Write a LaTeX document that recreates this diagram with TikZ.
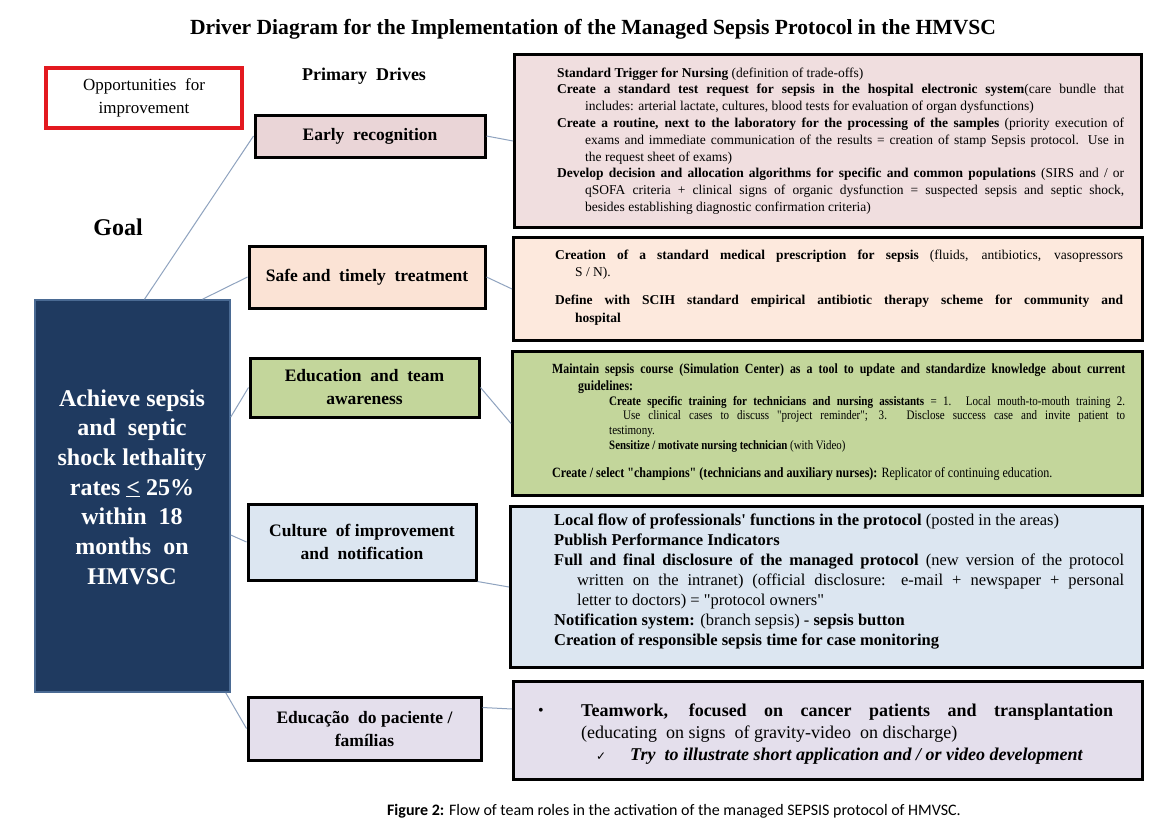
\documentclass[tikz,border=0pt]{standalone}
\usepackage{fontspec}
\setmainfont{Liberation Serif}[Ligatures=TeXOff]
\newfontfamily\capfont{Carlito}
\newfontfamily\condfont{Liberation Serif}[FakeStretch=0.85, Ligatures=TeXOff]
\newfontfamily\symfont{DejaVu Sans}
\definecolor{goalblue}{HTML}{1F3A60}
\definecolor{goaledge}{HTML}{4A6A93}
\definecolor{pinkA}{HTML}{EAD5D7}
\definecolor{pinkB}{HTML}{F0DEDF}
\definecolor{peachA}{HTML}{FBE3D5}
\definecolor{peachB}{HTML}{FDE9DD}
\definecolor{greenA}{HTML}{C3D69B}
\definecolor{blueA}{HTML}{DCE6F1}
\definecolor{lavA}{HTML}{E4DFEC}
\definecolor{conn}{HTML}{8FA3BF}
\definecolor{oppred}{HTML}{E3191F}
% first paragraph of a block (no leading \par) and following paragraphs
\newcommand\hf[1]{\noindent\hangindent=#1\hangafter=1\relax}
\newcommand\hn[1]{\par\noindent\hangindent=#1\hangafter=1\relax}
\tikzset{
  primbox/.style={draw=black, line width=3pt, inner sep=0pt, align=center,
    font=\bfseries\fontsize{17.5}{23}\selectfont},
  drvbox/.style={draw=black, line width=3pt, inner sep=0pt, anchor=north west},
  link/.style={draw=conn, line width=1pt},
  txt/.style={inner sep=0pt, anchor=base west, align=justify},
}
\begin{document}
\begin{tikzpicture}[x=1pt,y=-1pt]
\fill[white] (0,0) rectangle (1153,830);
\useasboundingbox (0,0) rectangle (1153,830);

% title and headings
\node[anchor=base, inner sep=0pt, font=\bfseries\fontsize{21.6}{25}\selectfont] (title) at (593,34)
  {Driver Diagram for the Implementation of the Managed Sepsis Protocol in the HMVSC};
\node[anchor=base, inner sep=0pt, font=\bfseries\fontsize{18}{22}\selectfont] (primhead) at (364,80) {Primary~ Drives};
\node[anchor=base, inner sep=0pt, font=\bfseries\fontsize{24}{28}\selectfont] (goalhead) at (118,235) {Goal};
\node[draw=oppred, line width=3.5pt, minimum width=196pt, minimum height=60pt, inner sep=0pt,
  align=center, font=\fontsize{17}{23}\selectfont] (opp) at (144,98) {Opportunities~ for\\ improvement};

% goal
\node[draw=goaledge, line width=1.5pt, fill=goalblue, minimum width=195pt, minimum height=392pt, inner sep=0pt] (goal) at (132.5,496) {};
\node[text=white, align=center, inner sep=0pt, font=\bfseries\fontsize{24}{29.7}\selectfont] (goaltxt) at (132,487)
  {Achieve sepsis\\ and~ septic\\ shock lethality\\ rates \underline{<} 25\%\\ within~ 18\\ months~ on\\ HMVSC};

% primary drivers
\node[primbox, fill=pinkA, minimum width=230pt, minimum height=42pt] (pr1) at (370,136) {Early~ recognition};
\node[primbox, fill=peachA, minimum width=236pt, minimum height=62pt] (pr2) at (367,277) {Safe and~ timely~ treatment};
\node[primbox, fill=greenA, minimum width=229pt, minimum height=59pt] (pr3) at (364.5,387.5) {Education~ and~ team\\ awareness};
\node[primbox, fill=blueA, minimum width=228pt, minimum height=76pt] (pr4) at (362,542) {Culture~ of improvement\\ and~ notification};
\node[primbox, fill=lavA, minimum width=233pt, minimum height=63pt] (pr5) at (364.5,728.5) {Educação~ do paciente /\\ famílias};

% driver boxes
\node[drvbox, fill=pinkB, minimum width=627pt, minimum height=173pt] (bx1) at (513,53) {};
\node[drvbox, fill=peachB, minimum width=629pt, minimum height=103pt] (bx2) at (512,236) {};
\node[drvbox, fill=greenA, minimum width=630pt, minimum height=144pt] (bx3) at (511,350) {};
\node[drvbox, fill=blueA, minimum width=632pt, minimum height=161pt] (bx4) at (509,505) {};
\node[drvbox, fill=lavA, minimum width=629pt, minimum height=98pt] (bx5) at (512,680) {};

% connectors
\draw[link] ([xshift=12pt]goal.north) -- (pr1.west);
\draw[link] ([xshift=70pt]goal.north) -- (pr2.west);
\draw[link] ([yshift=79pt]goal.east) -- (pr3.west);
\draw[link] ([yshift=-39pt]goal.east) -- (pr4.west);
\draw[link] ([xshift=-5pt]goal.south east) -- (pr5.west);
\draw[link] (pr1.east) -- (bx1.west);
\draw[link] (pr2.east) -- (bx2.west);
\draw[link] (pr3.east) -- (bx3.west);
\draw[link] (pr4.south east) -- (bx4.west);
\draw[link] ([yshift=-12pt]pr5.north east) -- ([yshift=-29pt]bx5.north west);

% box 1 text
\node[txt, text width=567pt, font=\fontsize{13.5}{16.8}\selectfont] (t1) at (557,77) {%
\hf{28pt}\textbf{Standard Trigger for Nursing} (definition of trade-offs)
\hn{28pt}\textbf{Create a standard test request for sepsis in the hospital electronic system}(care bundle that\linebreak includes: arterial lactate, cultures, blood tests for evaluation of organ dysfunctions)
\hn{28pt}\textbf{Create a routine, next to the laboratory for the processing of the samples} (priority execution of\linebreak exams and immediate communication of the results = creation of stamp Sepsis protocol. Use in\linebreak the request sheet of exams)
\hn{28pt}\textbf{Develop decision and allocation algorithms for specific and common populations} (SIRS and / or\linebreak qSOFA criteria + clinical signs of organic dysfunction = suspected sepsis and septic shock,\linebreak besides establishing diagnostic confirmation criteria)\par};

% box 2 text
\node[txt, text width=568pt, font=\fontsize{13.5}{17.5}\selectfont] (t2) at (555,259) {%
\hf{20pt}\textbf{Creation of a standard medical prescription for sepsis} (fluids, antibiotics, vasopressors\linebreak S / N).
\par\vspace{10.5pt}
\hf{20pt}\textbf{Define with SCIH standard empirical antibiotic therapy scheme for community and\linebreak hospital}\par};

% box 3 text
\node[txt, text width=573pt, font=\condfont\bfseries\fontsize{14}{17}\selectfont] (t3a) at (552,373) {%
\hf{26pt}Maintain sepsis course (Simulation Center) as a tool to update and standardize knowledge about current\linebreak guidelines:\par};
\node[txt, text width=516pt, font=\condfont\fontsize{13}{14.5}\selectfont] (t3b) at (609,405) {%
\noindent\parshape 3 0pt 516pt 14pt 502pt 0pt 516pt \textbf{Create specific training for technicians and nursing assistants} = 1. Local mouth-to-mouth training 2.\linebreak Use clinical cases to discuss "project reminder"; 3. Disclose success case and invite patient to\linebreak testimony.\par};
\node[txt, font=\condfont\fontsize{12.8}{14.5}\selectfont] (t3c) at (609,449) {\textbf{Sensitize / motivate nursing technician} (with Video)};
\node[txt, font=\condfont\fontsize{14.2}{16}\selectfont] (t3d) at (552,477) {\textbf{Create / select "champions" (technicians and auxiliary nurses):} Replicator of continuing education.};

% box 4 text
\node[txt, text width=570pt, font=\fontsize{16.5}{20}\selectfont] (t4) at (554,525) {%
\hf{23pt}\textbf{Local flow of professionals' functions in the protocol} (posted in the areas)
\hn{23pt}\textbf{Publish Performance Indicators}
\hn{23pt}\textbf{Full and final disclosure of the managed protocol} (new version of the protocol\linebreak written on the intranet) (official disclosure: e-mail + newspaper + personal\linebreak letter to doctors) = "protocol owners"
\hn{23pt}\textbf{Notification system:} (branch sepsis) - \textbf{sepsis button}
\hn{23pt}\textbf{Creation of responsible sepsis time for case monitoring}\par};

% box 5 text
\node[txt, font=\fontsize{16}{22}\selectfont] (bul) at (538,715) {•};
\node[txt, text width=532pt, font=\fontsize{18}{22}\selectfont] (t5) at (581,716) {%
\noindent\textbf{Teamwork, focused on cancer patients and transplantation}\linebreak (educating~ on signs~ of gravity-video~ on discharge)\par};
\node[txt, font=\symfont\fontsize{12}{14}\selectfont] (chk) at (596,760) {✓};
\node[txt, font=\bfseries\itshape\fontsize{18}{20}\selectfont] (t5b) at (630,760) {Try~ to illustrate short application and / or video development};

% caption
\node[anchor=base, inner sep=0pt, font=\capfont\fontsize{16}{20}\selectfont] (cap) at (674,815)
  {\textbf{Figure 2:} Flow of team roles in the activation of the managed SEPSIS protocol of HMVSC.};
\end{tikzpicture}
\end{document}
